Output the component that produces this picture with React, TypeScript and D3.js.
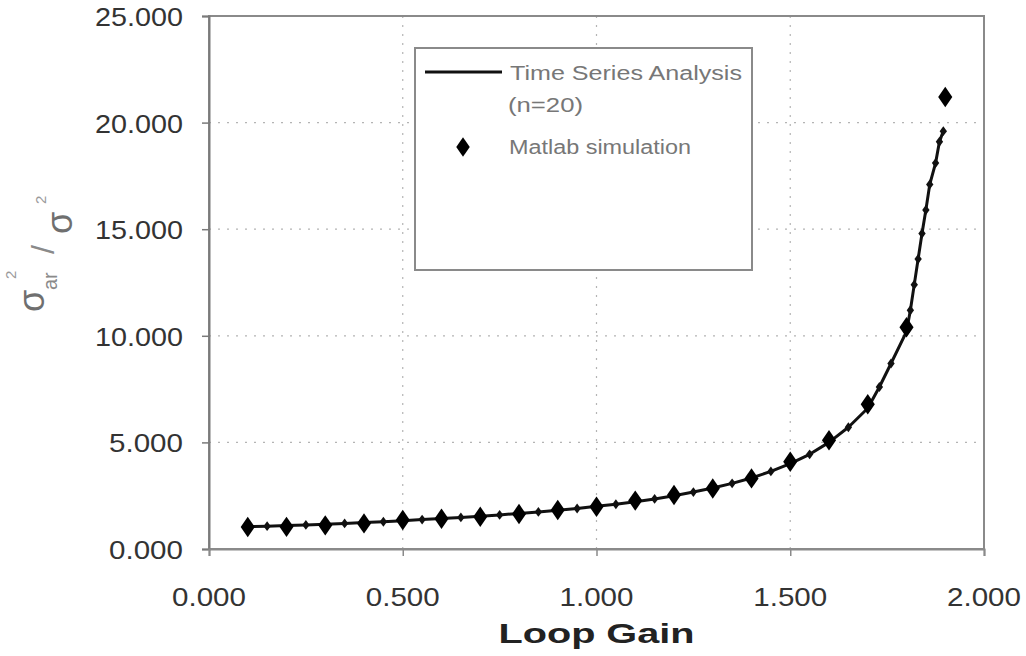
import { useEffect, useRef } from 'react';
import * as d3 from 'd3';

// Matlab simulation (diamonds)
const SIM_GAIN = [0.1, 0.2, 0.3, 0.4, 0.5, 0.6, 0.7, 0.8, 0.9, 1.0, 1.1, 1.2, 1.3, 1.4, 1.5, 1.6, 1.7, 1.8, 1.9];
const SIM_RATIO = [1.03, 1.04, 1.11, 1.2, 1.36, 1.42, 1.51, 1.64, 1.83, 1.98, 2.27, 2.53, 2.84, 3.31, 4.09, 5.1, 6.79, 10.4, 21.2];

// Time series analysis (n=20) line
const TSA_GAIN = [
  0.1, 0.15, 0.2, 0.25, 0.3, 0.35, 0.4, 0.45, 0.5, 0.55, 0.6, 0.65, 0.7, 0.75, 0.8, 0.85, 0.9, 0.95,
  1.0, 1.05, 1.1, 1.15, 1.2, 1.25, 1.3, 1.35, 1.4, 1.45, 1.5, 1.55, 1.6, 1.65, 1.7, 1.73, 1.76, 1.8,
  1.81, 1.82, 1.83, 1.84, 1.85, 1.86, 1.875, 1.885, 1.895,
];
const TSA_RATIO = [
  1.05, 1.07, 1.1, 1.13, 1.16, 1.2, 1.24, 1.28, 1.33, 1.38, 1.43, 1.48, 1.54, 1.6, 1.67, 1.74, 1.82, 1.9,
  2.0, 2.1, 2.22, 2.35, 2.5, 2.67, 2.86, 3.08, 3.33, 3.64, 4.0, 4.44, 5.0, 5.71, 6.6, 7.6, 8.7, 10.2,
  11.2, 12.4, 13.6, 14.8, 15.9, 17.1, 18.1, 19.1, 19.6,
];

const X_TICKS = [0, 0.5, 1.0, 1.5, 2.0];
const Y_TICKS = [0, 5, 10, 15, 20, 25];

const W = 1026;
const H = 656;
const PLOT = { left: 209, right: 984, top: 16, bottom: 549 };
const FONT = '"Liberation Sans", Arial, sans-serif';

export default function App() {
  const svgRef = useRef<SVGSVGElement>(null);

  useEffect(() => {
    const svg = d3.select(svgRef.current);
    svg.selectAll('*').remove();

    const x = d3.scaleLinear().domain([0, 2]).range([PLOT.left, PLOT.right]);
    const y = d3.scaleLinear().domain([0, 25]).range([PLOT.bottom, PLOT.top]);

    svg.append('rect').attr('width', W).attr('height', H).attr('fill', '#fff');

    // gridlines
    const grid = svg.append('g').attr('stroke', '#b4b4b4').attr('stroke-width', 1.2).attr('stroke-dasharray', '2,7');
    grid
      .selectAll('line.h')
      .data(Y_TICKS.filter((t) => t > 0 && t < 25))
      .join('line')
      .attr('x1', PLOT.left)
      .attr('x2', PLOT.right)
      .attr('y1', (d) => y(d))
      .attr('y2', (d) => y(d));
    grid
      .selectAll('line.v')
      .data(X_TICKS.filter((t) => t > 0 && t < 2))
      .join('line')
      .attr('y1', PLOT.top)
      .attr('y2', PLOT.bottom)
      .attr('x1', (d) => x(d))
      .attr('x2', (d) => x(d));

    // plot border
    svg
      .append('rect')
      .attr('x', PLOT.left)
      .attr('y', PLOT.top)
      .attr('width', PLOT.right - PLOT.left)
      .attr('height', PLOT.bottom - PLOT.top)
      .attr('fill', 'none')
      .attr('stroke', '#8a8a8a')
      .attr('stroke-width', 2);

    // axes
    const yAxis = svg
      .append('g')
      .attr('transform', `translate(${PLOT.left},0)`)
      .call(d3.axisLeft(y).tickValues(Y_TICKS).tickSize(7).tickFormat(() => ''));
    yAxis.select('.domain').attr('stroke', '#7a7a7a').attr('stroke-width', 2);
    yAxis.selectAll('.tick line').attr('stroke', '#7a7a7a').attr('stroke-width', 1.5);

    const xAxis = svg
      .append('g')
      .attr('transform', `translate(0,${PLOT.bottom})`)
      .call(d3.axisBottom(x).tickValues(X_TICKS).tickSize(7).tickFormat(() => ''));
    xAxis.select('.domain').attr('stroke', '#8a8a8a').attr('stroke-width', 2);
    xAxis.selectAll('.tick line').attr('stroke', '#8a8a8a').attr('stroke-width', 1.5);

    // tick labels (stretched wide like the scanned original)
    svg
      .append('g')
      .selectAll('text')
      .data(Y_TICKS)
      .join('text')
      .attr('x', 183 - 88)
      .attr('y', (d) => y(d) + 10)
      .attr('textLength', (d) => (d >= 10 ? 88 : 74))
      .attr('dx', (d) => (d >= 10 ? 0 : 14))
      .attr('lengthAdjust', 'spacingAndGlyphs')
      .style('font-family', FONT)
      .style('font-size', '26px')
      .style('fill', '#333')
      .text((d) => d3.format('.3f')(d));

    svg
      .append('g')
      .selectAll('text')
      .data(X_TICKS)
      .join('text')
      .attr('x', (d) => x(d) - 37)
      .attr('y', 606)
      .attr('textLength', 74)
      .attr('lengthAdjust', 'spacingAndGlyphs')
      .style('font-family', FONT)
      .style('font-size', '26px')
      .style('fill', '#333')
      .text((d) => d3.format('.3f')(d));

    // x title
    svg
      .append('text')
      .attr('x', (PLOT.left + PLOT.right) / 2 - 98)
      .attr('y', 643)
      .attr('textLength', 196)
      .attr('lengthAdjust', 'spacingAndGlyphs')
      .style('font-family', FONT)
      .style('font-size', '28px')
      .style('font-weight', 'bold')
      .style('fill', '#222')
      .text('Loop Gain');

    // y title: sigma_ar^2 / sigma^2, rotated
    const yt = svg.append('g').style('font-family', FONT).style('fill', '#7a7a7a');
    const rot = (g: any, tx: number, ty: number, size: number, txt: string, color = '#6f6f6f') =>
      g
        .append('text')
        .attr('transform', `translate(${tx},${ty}) rotate(-90)`)
        .style('font-size', `${size}px`)
        .style('fill', color)
        .text(txt);
    rot(yt, 44, 312, 36, 'σ');
    rot(yt, 16, 279, 15, '2', '#9a9a9a');
    rot(yt, 57, 290, 20, 'ar', '#8a8a8a');
    rot(yt, 54, 254, 32, '/', '#8a8a8a');
    rot(yt, 72, 234, 36, 'σ');
    rot(yt, 46, 204, 15, '2', '#9a9a9a');

    // line series
    const tsa = TSA_GAIN.map((g, i) => [g, TSA_RATIO[i]] as [number, number]);
    svg
      .append('path')
      .datum(tsa)
      .attr('fill', 'none')
      .attr('stroke', '#111')
      .attr('stroke-width', 3)
      .attr('stroke-linejoin', 'round')
      .attr('d', d3.line<[number, number]>().x((d) => x(d[0])).y((d) => y(d[1])));

    const diamond = d3.symbol().type(d3.symbolDiamond);
    svg
      .append('g')
      .selectAll('path')
      .data(tsa)
      .join('path')
      .attr('transform', (d) => `translate(${x(d[0])},${y(d[1])}) scale(1.3,1)`)
      .attr('d', diamond.size(28)())
      .attr('fill', '#111');

    // simulation diamonds
    svg
      .append('g')
      .selectAll('path')
      .data(SIM_GAIN.map((g, i) => [g, SIM_RATIO[i]]))
      .join('path')
      .attr('transform', (d) => `translate(${x(d[0])},${y(d[1])}) scale(1.2,1)`)
      .attr('d', diamond.size(120)())
      .attr('fill', '#000');

    // legend
    const lg = svg.append('g');
    lg.append('rect')
      .attr('x', 415)
      .attr('y', 48)
      .attr('width', 337)
      .attr('height', 222)
      .attr('fill', '#fff')
      .attr('stroke', '#8a8a8a')
      .attr('stroke-width', 2);
    lg.append('line')
      .attr('x1', 425)
      .attr('x2', 502)
      .attr('y1', 72)
      .attr('y2', 72)
      .attr('stroke', '#111')
      .attr('stroke-width', 3);
    lg.append('path')
      .attr('transform', 'translate(463,147) scale(1.2,1)')
      .attr('d', diamond.size(110)())
      .attr('fill', '#000');
    const lt = (tx: number, ty: number, len: number, txt: string) =>
      lg
        .append('text')
        .attr('x', tx)
        .attr('y', ty)
        .attr('textLength', len)
        .attr('lengthAdjust', 'spacingAndGlyphs')
        .style('font-family', FONT)
        .style('font-size', '20px')
        .style('fill', '#777')
        .text(txt);
    lt(510, 80, 232, 'Time Series Analysis');
    lt(508, 112, 75, '(n=20)');
    lt(509, 154, 182, 'Matlab simulation');
  }, []);

  return (
    <svg
      ref={svgRef}
      width={W}
      height={H}
      style={{ position: 'absolute', left: 0, top: 0 }}
    />
  );
}
